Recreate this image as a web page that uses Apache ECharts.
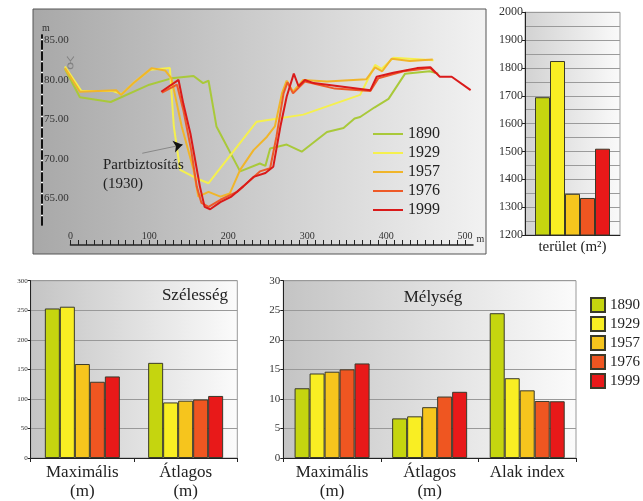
<!DOCTYPE html>
<html><head><meta charset="utf-8">
<script src="https://cdn.jsdelivr.net/npm/echarts@6/dist/echarts.min.js"></script>
<style>html,body{margin:0;padding:0;background:#fff}#c{width:643px;height:501px}</style>
</head><body><div id="c"></div>
<script>
// ---------- data ----------
var years = ['1890', '1929', '1957', '1976', '1999'];
var lineColors = ['#a9c93a', '#f5f04e', '#f0b52a', '#ee5a28', '#da1a1a'];
var barColors = ['#c5d50f', '#f9ee23', '#f6c51d', '#ef5621', '#e81919'];

// cross-section profiles: [distance (m), elevation (m)]
var profile1890 = [[-7,81.4],[12,77.8],[51,77.2],[100,79.4],[128,80.2],[156,80.5],[168,79.6],[175,79.9],[185,74.1],[215,68.4],[240,69.4],[247,69.1],[253,71.3],[274,71.8],[293,70.9],[325,73.4],[346,73.9],[360,75.1],[367,75.3],[385,76.5],[403,77.6],[424,80.8],[455,81.1],[466,80.8]];
var profile1929 = [[-7,81.7],[14,78.6],[54,78.6],[65,78.2],[82,79.8],[101,81.3],[126,81.5],[128,81.5],[131,74.1],[139,68.6],[160,67.5],[175,66.9],[236,74.7],[295,75.6],[367,78.1],[386,81.9],[394,81.4],[409,82.8],[460,82.5]];
var profile1957 = [[-7,81.5],[12,78.5],[58,78.7],[64,78.1],[80,79.6],[103,81.5],[120,81.2],[128,80.2],[141,74.1],[156,68.6],[162,65.2],[175,65.8],[190,65.2],[202,65.6],[215,68.6],[232,71.1],[249,72.8],[259,74.1],[268,78.3],[274,79.9],[282,78.5],[295,80.0],[325,79.8],[375,80.1],[386,81.6],[395,81.1],[407,82.7],[430,82.4],[459,82.6]];
var profile1976 = [[116,78.4],[135,79.4],[143,76.2],[153,71.1],[160,66.5],[166,64.4],[175,63.9],[190,64.8],[211,65.8],[228,67.3],[240,68.4],[253,68.8],[261,72.8],[270,78.3],[275,79.7],[282,78.3],[297,79.8],[335,78.9],[380,78.6],[390,80.2],[422,81.1],[456,81.5],[462,80.9]];
var profile1999 = [[115,78.5],[137,80.0],[143,77.0],[152,73.2],[164,66.5],[170,63.9],[177,63.6],[190,64.5],[204,65.2],[219,66.5],[232,67.7],[247,68.2],[257,69.0],[266,74.1],[274,77.9],[283,80.8],[289,79.2],[297,80.0],[308,79.6],[380,78.7],[388,80.4],[409,80.9],[439,81.5],[456,81.6],[468,80.4],[483,80.4],[507,78.7]];
var profiles = [profile1890, profile1929, profile1957, profile1976, profile1999];

var elevTicks = [65, 70, 75, 80, 85];
var distLabels = [0, 100, 200, 300, 400, 500];
var distTicks = [];
for (var t = 0; t <= 500; t += 10) distTicks.push(t);

var areaCats = ['terület (m²)'];
var area = [1695, 1825, 1348, 1333, 1510];

var widthCats = ['Maximális\n(m)', 'Átlagos\n(m)'];
var widthMax = [253, 256, 159, 129, 138];
var widthAvg = [161, 94, 97, 99, 105];

var depthCats = ['Maximális\n(m)', 'Átlagos\n(m)', 'Alak index'];
var depthMax = [11.8, 14.3, 14.6, 15.0, 16.0];
var depthAvg = [6.7, 7.05, 8.6, 10.4, 11.2];
var shapeIdx = [24.5, 13.5, 11.45, 9.65, 9.6];

// ---------- chart ----------
var SERIF = '"Liberation Serif", "DejaVu Serif", serif';
var chart = echarts.init(document.getElementById('c'), null, {renderer: 'canvas'});
function grad(a, b) {
  return new echarts.graphic.LinearGradient(0, 0, 1, 0, [{offset: 0, color: a}, {offset: 1, color: b}]);
}
var series = [];
years.forEach(function (y, i) {
  series.push({
    type: 'line', name: y, xAxisIndex: 0, yAxisIndex: 0, data: profiles[i],
    symbol: 'none', lineStyle: {color: lineColors[i], width: 2}, itemStyle: {color: lineColors[i]},
    animation: false, z: 3 + i
  });
});
// survey marker + annotation arrow
series.push({
  type: 'scatter', xAxisIndex: 0, yAxisIndex: 0, data: [[0, 82.2]], silent: true,
  symbol: 'path://M1,0 L5,5 L9,0 M5,5 L5,7 M8,10.5 A3,3 0 1,1 2,10.5 A3,3 0 1,1 8,10.5 Z',
  symbolSize: [7, 12], itemStyle: {color: 'rgba(0,0,0,0)', borderColor: '#777', borderWidth: 1}, z: 9,
  markLine: {
    silent: true, animation: false, label: {show: false},
    data: [
      [{coord: [91, 70.7], symbol: 'none'}, {coord: [136, 71.65], symbol: 'none'}],
      [{coord: [134, 71.6], symbol: 'none', lineStyle: {color: '#111', width: 1}}, {coord: [142, 71.78], symbol: 'arrow', symbolSize: 9}]
    ],
    lineStyle: {color: '#888', width: 1, type: 'solid'}
  }
});
function addBars(vals, xi, yi, i) {
  series.push({
    type: 'bar', name: 'b' + years[i], xAxisIndex: xi, yAxisIndex: yi, data: vals,
    barWidth: 15, barGap: '0%', animation: false,
    itemStyle: {color: barColors[i], borderColor: '#3a3a2a', borderWidth: 1}
  });
}
years.forEach(function (y, i) {
  addBars([area[i]], 2, 3, i);
  addBars([widthMax[i], widthAvg[i]], 3, 4, i);
  addBars([depthMax[i], depthAvg[i], shapeIdx[i]], 4, 5, i);
});

var plain = function (v) { return String(v); };
var option = {
  animation: false,
  backgroundColor: '#fff',
  textStyle: {fontFamily: SERIF},
  graphic: [
    {type: 'rect', z: -10, shape: {x: 33, y: 9, width: 453, height: 245},
     style: {fill: grad('#a8a8a8', '#f2f2f2'), stroke: '#555', lineWidth: 1}},
    {type: 'text', z: 10, style: {text: 'Partbiztosítás\n(1930)', x: 103, y: 156, font: '15px ' + SERIF, fill: '#222', lineHeight: 19}},
    {type: 'text', z: 10, style: {text: 'Szélesség', x: 228, y: 296, textAlign: 'right', textVerticalAlign: 'middle', font: '17px ' + SERIF, fill: '#222'}},
    {type: 'text', z: 10, style: {text: 'Mélység', x: 433, y: 298, textAlign: 'center', textVerticalAlign: 'middle', font: '17px ' + SERIF, fill: '#222'}}
  ],
  legend: [
    {data: years, orient: 'vertical', left: 368, top: 121, itemWidth: 30, itemHeight: 2, itemGap: 3, icon: 'rect',
     selectedMode: false, textStyle: {fontSize: 16, color: '#222', fontFamily: SERIF}},
    {data: years.map(function (y) { return 'b' + y; }), orient: 'vertical', left: 585, top: 292,
     itemWidth: 14, itemHeight: 14, itemGap: 3, icon: 'rect', selectedMode: false,
     formatter: function (n) { return n.slice(1); },
     textStyle: {fontSize: 15, color: '#222', fontFamily: SERIF}}
  ],
  grid: [
    {left: 42, top: 35, width: 431, height: 190},
    {left: 70.4, top: 244, width: 402.6, height: 1},
    {left: 525, top: 12.3, width: 95, height: 222.7, show: true, borderColor: '#999', borderWidth: 1, backgroundColor: grad('#d2d2d2', '#fafafa')},
    {left: 30.7, top: 280.7, width: 206.6, height: 181.6, show: true, borderColor: '#999', borderWidth: 1, backgroundColor: grad('#c4c4c4', '#fbfbfb')},
    {left: 283.3, top: 280.7, width: 292.7, height: 181.6, show: true, borderColor: '#999', borderWidth: 1, backgroundColor: grad('#c4c4c4', '#fbfbfb')}
  ],
  xAxis: [
    {type: 'value', gridIndex: 0, min: -36, max: 510, show: false},
    {type: 'value', gridIndex: 1, min: 0, max: 510, splitLine: {show: false},
     axisLine: {show: true, onZero: false, lineStyle: {color: '#222', width: 1.5}},
     axisTick: {show: true, inside: true, length: 5, customValues: distTicks, lineStyle: {color: '#222'}},
     axisLabel: {inside: true, customValues: distLabels, margin: 4, fontSize: 10, color: '#333', fontFamily: SERIF},
     name: 'm', nameLocation: 'end', nameGap: 3, nameTextStyle: {fontSize: 10, color: '#333', verticalAlign: 'bottom', padding: [0, 0, 1, 0], fontFamily: SERIF}},
    {type: 'category', gridIndex: 2, data: areaCats, axisLine: {lineStyle: {color: '#222'}}, axisTick: {show: false},
     axisLabel: {interval: 0, fontSize: 15, margin: 5, color: '#222', fontFamily: SERIF}},
    {type: 'category', gridIndex: 3, data: widthCats, axisLine: {lineStyle: {color: '#222'}}, axisTick: {show: true, length: 4, lineStyle: {color: '#222'}},
     axisLabel: {interval: 0, fontSize: 17, lineHeight: 19, margin: 5, color: '#222', fontFamily: SERIF}},
    {type: 'category', gridIndex: 4, data: depthCats, axisLine: {lineStyle: {color: '#222'}}, axisTick: {show: true, length: 4, lineStyle: {color: '#222'}},
     axisLabel: {interval: 0, hideOverlap: false, fontSize: 17, lineHeight: 19, margin: 5, color: '#222', fontFamily: SERIF}}
  ],
  yAxis: [
    {type: 'value', gridIndex: 0, min: 61.6, max: 85.7, z: 2, position: 'left', splitLine: {show: false},
     axisLine: {show: true, onZero: false, lineStyle: {color: '#111', width: 2, type: [8, 3]}},
     axisTick: {show: false},
     axisLabel: {inside: true, customValues: elevTicks, formatter: function (v) { return v.toFixed(2); }, margin: 2, fontSize: 11, color: '#333', fontFamily: SERIF},
     name: 'm', nameLocation: 'end', nameGap: 2, nameTextStyle: {fontSize: 10, color: '#333', align: 'left', verticalAlign: 'bottom', fontFamily: SERIF}},
    {type: 'value', gridIndex: 1, show: false},
    {type: 'value', gridIndex: 0, min: 61.6, max: 85.7, z: 1, position: 'left', splitLine: {show: false},
     axisLine: {show: true, onZero: false, lineStyle: {color: '#fff', width: 2}}, axisTick: {show: false}, axisLabel: {show: false}},
    {type: 'value', gridIndex: 2, min: 1200, max: 2000, interval: 100,
     axisLine: {show: true, lineStyle: {color: '#222'}}, axisTick: {show: true, length: 3, lineStyle: {color: '#222'}},
     axisLabel: {fontSize: 12, margin: 2, color: '#333', fontFamily: SERIF, formatter: plain},
     splitLine: {lineStyle: {color: '#9a9a9a'}}, minorTick: {show: false, splitNumber: 2}, minorSplitLine: {show: true, lineStyle: {color: '#9a9a9a'}}},
    {type: 'value', gridIndex: 3, min: 0, max: 300, interval: 50,
     axisLine: {show: true, lineStyle: {color: '#222'}}, axisTick: {show: true, length: 3, lineStyle: {color: '#222'}},
     axisLabel: {fontSize: 7, margin: 3, color: '#333', fontFamily: SERIF, formatter: plain}, splitLine: {lineStyle: {color: '#999'}}},
    {type: 'value', gridIndex: 4, min: 0, max: 30, interval: 5,
     axisLine: {show: true, lineStyle: {color: '#222'}}, axisTick: {show: true, length: 3, lineStyle: {color: '#222'}},
     axisLabel: {fontSize: 11, margin: 3, color: '#333', fontFamily: SERIF, formatter: plain}, splitLine: {lineStyle: {color: '#999'}}}
  ],
  series: series
};
chart.setOption(option);
</script>
</body></html>
